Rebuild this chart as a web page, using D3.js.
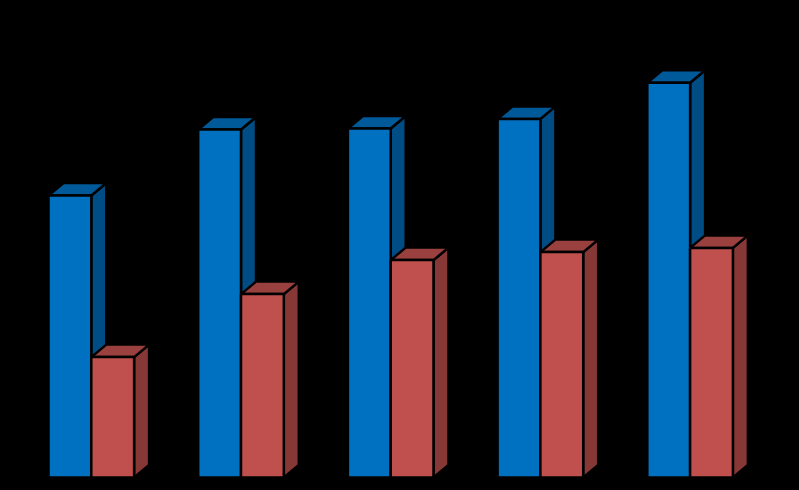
<!DOCTYPE html>
<html>
<head>
<meta charset="utf-8">
<script src="https://cdn.jsdelivr.net/npm/d3@7"></script>
<style>
  html, body { margin: 0; padding: 0; background: #000; overflow: hidden; }
  svg { display: block; }
</style>
</head>
<body>
<div class="graph"></div>
<script>
// no labels can be read in the picture, so the groups are just numbered
const groups = ["1", "2", "3", "4", "5"];
const seriesNames = ["blue", "red"];
const blueValues = [70.5, 87, 87.25, 89.65, 98.7];
const redValues = [30.1, 45.85, 54.35, 56.35, 57.4];

let w = 799;
let h = 490;
let depthX = 15;
let depthY = 12.5;

const fills = {
  blue: { front: "#0070C0", top: "#005A9A", side: "#004D85" },
  red: { front: "#C0504D", top: "#9A403E", side: "#863836" }
};

let svg = d3
  .select(".graph")
  .append("svg")
  .attr("width", w)
  .attr("height", h);

svg.append("rect").attr("width", w).attr("height", h).attr("fill", "#000");

let xScale = d3.scaleBand().domain(groups).range([48.5, 48.5 + 5 * 149.7]);
let seriesScale = d3.scaleBand().domain(seriesNames).range([0, 85.6]);
let yScale = d3.scaleLinear().domain([0, 100]).range([477.5, 77.5]);

function drawBar(g, x, bw, v, c) {
  let y0 = yScale(0);
  let y1 = yScale(v);
  let pts = (arr) => arr.map((p) => p.join(",")).join(" ");

  g.append("polygon")
    .attr("points", pts([[x + bw, y1], [x + bw + depthX, y1 - depthY], [x + bw + depthX, y0 - depthY], [x + bw, y0]]))
    .attr("fill", c.side);
  g.append("polygon")
    .attr("points", pts([[x, y1], [x + depthX, y1 - depthY], [x + bw + depthX, y1 - depthY], [x + bw, y1]]))
    .attr("fill", c.top);
  g.append("rect")
    .attr("x", x)
    .attr("y", y1)
    .attr("width", bw)
    .attr("height", y0 - y1)
    .attr("fill", c.front);
  g.selectAll("polygon, rect")
    .attr("stroke", "#000")
    .attr("stroke-width", 2.5)
    .attr("stroke-linejoin", "bevel");
}

groups.forEach(function (d, i) {
  let g = svg.append("g").attr("class", "group");
  let bw = seriesScale.bandwidth();
  drawBar(g.append("g"), xScale(d) + seriesScale("blue"), bw, blueValues[i], fills.blue);
  drawBar(g.append("g"), xScale(d) + seriesScale("red"), bw, redValues[i], fills.red);
});
</script>
</body>
</html>
